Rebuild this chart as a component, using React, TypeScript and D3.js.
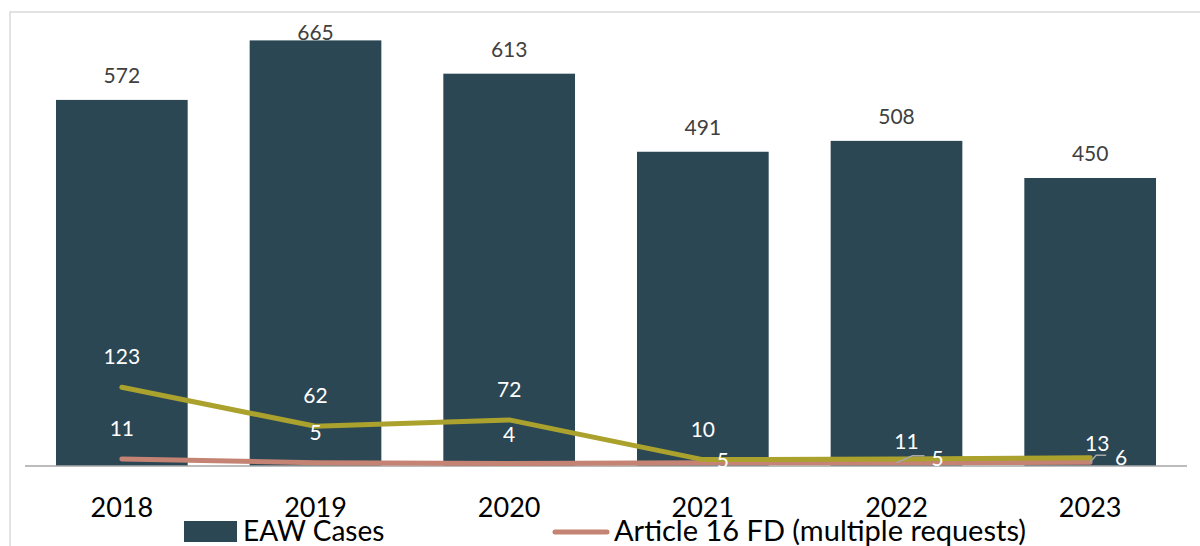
import React from "react";
import * as d3 from "d3";

// Yearly figures
const years = ["2018", "2019", "2020", "2021", "2022", "2023"];
const eawCases = [572, 665, 613, 491, 508, 450];
const otherRequests = [123, 62, 72, 10, 11, 13];
const article16 = [11, 5, 4, 5, 5, 6];

const legendItems = ["EAW Cases", "Article 16 FD (multiple requests)"];

const COLORS = {
  bar: "#2C4754",
  olive: "#ABA22E",
  salmon: "#C48373",
  axis: "#A6A6A6",
  frame: "#D9D9D9",
  label: "#404040",
};

const W = 1200;
const H = 546;
const FONT = "Lato, 'Open Sans', sans-serif";

// label placement offsets (dx, dy) relative to each point
const oliveLabelOffsets: [number, number][] = [
  [0, -30], [0, -30], [0, -30], [0, -30], [10, -17], [7, -14],
];
const salmonLabelOffsets: [number, number][] = [
  [0, -30], [0, -30], [0, -28], [20, -2], [41, -4], [31, -4],
];
// leader lines for crowded labels: index -> [dx1, dy1, dx2, dy2] relative to point
const oliveLeaders: Record<number, number[]> = {
  4: [16, -4, 28, -4],
  5: [6, -4, 16, -4],
};

export default function App() {
  const x = d3.scaleBand<string>().domain(years).range([25, 1187]).paddingInner(0.32).paddingOuter(0.16);
  const y = d3.scaleLinear().domain([0, 700]).range([466, 18]);
  const cx = (i: number) => (x(years[i]) as number) + x.bandwidth() / 2;

  const line = d3
    .line<number>()
    .x((_, i) => cx(i))
    .y((d) => y(d));

  return (
    <svg
      width={W}
      height={H}
      style={{ position: "absolute", left: 0, top: 0, background: "#fff" }}
      fontFamily={FONT}
    >
      <rect x={0} y={0} width={W} height={H} fill="#fff" />
      {/* chart frame */}
      <rect x={10} y={12} width={W + 20} height={H + 20} fill="none" stroke={COLORS.frame} strokeWidth={1.5} />

      {/* bar value labels (drawn below the bars) */}
      {eawCases.map((v, i) => {
        const top = y(v);
        const ly = Math.max(top - 17, 40);
        return (
          <text key={"bl" + i} x={cx(i)} y={ly} textAnchor="middle" fontSize={21} fill={COLORS.label}>
            {v}
          </text>
        );
      })}

      {/* bars */}
      {eawCases.map((v, i) => (
        <rect
          key={"b" + i}
          x={x(years[i])}
          y={y(v)}
          width={x.bandwidth()}
          height={y(0) - y(v)}
          fill={COLORS.bar}
        />
      ))}

      {/* category axis */}
      <line x1={25} x2={1187} y1={y(0)} y2={y(0)} stroke={COLORS.axis} strokeWidth={1.5} />

      {/* lines */}
      <path d={line(article16) || ""} fill="none" stroke={COLORS.salmon} strokeWidth={5} strokeLinecap="round" strokeLinejoin="round" />
      <path d={line(otherRequests) || ""} fill="none" stroke={COLORS.olive} strokeWidth={5} strokeLinecap="round" strokeLinejoin="round" />

      {/* leader lines */}
      {Object.entries(oliveLeaders).map(([k, d]) => {
        const i = +k;
        const px = cx(i);
        const py = y(article16[i]);
        return (
          <polyline
            key={"ld" + k}
            points={`${px},${py} ${px + d[0]},${py + d[1] - 3} ${px + d[2]},${py + d[3] - 3}`}
            fill="none"
            stroke="#A6A6A6"
            strokeWidth={1.5}
          />
        );
      })}

      {/* line value labels */}
      {otherRequests.map((v, i) => (
        <text
          key={"ol" + i}
          x={cx(i) + oliveLabelOffsets[i][0]}
          y={y(v) + oliveLabelOffsets[i][1] + 7}
          textAnchor="middle"
          fontSize={21}
          fill="#fff"
        >
          {v}
        </text>
      ))}
      {article16.map((v, i) => (
        <text
          key={"sl" + i}
          x={cx(i) + salmonLabelOffsets[i][0]}
          y={y(v) + salmonLabelOffsets[i][1] + 7}
          textAnchor="middle"
          fontSize={21}
          fill="#fff"
        >
          {v}
        </text>
      ))}

      {/* year labels */}
      {years.map((yr, i) => (
        <text key={"yr" + i} x={cx(i)} y={517} textAnchor="middle" fontSize={27} fill="#000">
          {yr}
        </text>
      ))}

      {/* legend */}
      <rect x={184} y={521} width={53} height={21} fill={COLORS.bar} />
      <text x={243} y={541} fontSize={28} fill="#000">
        {legendItems[0]}
      </text>
      <line x1={555} x2={607} y1={532} y2={532} stroke={COLORS.salmon} strokeWidth={5} strokeLinecap="round" />
      <text x={614} y={541} fontSize={29} fill="#000">
        {legendItems[1]}
      </text>
    </svg>
  );
}
